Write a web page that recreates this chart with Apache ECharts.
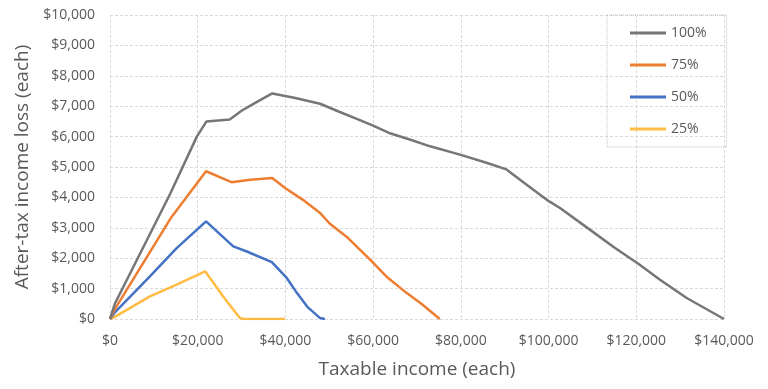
<!DOCTYPE html>
<html><head><meta charset="utf-8">
<script src="https://cdn.jsdelivr.net/npm/echarts@6/dist/echarts.min.js"></script>
<style>html,body{margin:0;padding:0;background:#fff}#c{width:768px;height:389px}</style>
</head><body><div id="c"></div>
<script>
const seriesNames = ['100%', '75%', '50%', '25%'];
const s100 = [[0,0],[1100,500],[13700,4110],[19800,6000],[22000,6500],[27300,6560],[30000,6850],[33000,7100],[37000,7420],[42000,7280],[47900,7080],[52400,6810],[56000,6600],[60000,6360],[64000,6100],[68000,5920],[73000,5680],[80000,5400],[86000,5130],[90400,4920],[95000,4420],[99600,3920],[102600,3650],[109400,2940],[115000,2350],[120700,1790],[125400,1290],[131500,690],[140000,0]];
const s75 = [[0,0],[1000,300],[14000,3350],[21900,4860],[27700,4500],[32000,4580],[37000,4640],[40000,4300],[44000,3920],[47900,3490],[50000,3150],[54000,2700],[59300,1950],[63000,1400],[67600,860],[71000,500],[75200,0]];
const s50 = [[0,0],[1000,200],[9100,1400],[15200,2330],[21900,3210],[28100,2390],[31200,2220],[36900,1870],[40300,1350],[42600,860],[45000,400],[47900,30],[49000,0]];
const s25 = [[0,0],[1000,60],[9100,745],[15200,1130],[21700,1570],[25800,740],[29600,30],[30500,0],[39900,0]];
const colors = ['#767676', '#ed7d31', '#4472c4', '#ffbb44'];
const xTitle = 'Taxable income (each)';
const yTitle = 'After-tax income loss (each)';

const money = v => '$' + v.toLocaleString('en-US');
const font = '"Open Sans", "Noto Sans", sans-serif';
const chart = echarts.init(document.getElementById('c'), null, {renderer: 'canvas'});
const data = [s100, s75, s50, s25];
chart.setOption({
  animation: false,
  textStyle: {fontFamily: font},
  grid: {left: 110, right: 44, top: 15, bottom: 70},
  legend: {
    orient: 'vertical', left: 607, top: 15, width: 121,
    padding: [11, 20, 11, 23], itemGap: 18, itemWidth: 36, itemHeight: 3,
    icon: 'rect', borderColor: '#bfbfbf', borderWidth: 1, borderType: 'dotted',
    textStyle: {fontSize: 14, color: '#595959', fontFamily: font},
    data: seriesNames
  },
  xAxis: {
    type: 'value', min: 0, max: 140000, interval: 20000,
    name: xTitle, nameLocation: 'middle', nameGap: 41,
    nameTextStyle: {fontSize: 19, color: '#595959'},
    axisLine: {show: false}, axisTick: {show: false},
    axisLabel: {formatter: money, fontSize: 14, color: '#595959', margin: 15},
    splitLine: {show: true, lineStyle: {color: '#d9d9d9', type: [3, 2], width: 1}}
  },
  yAxis: {
    type: 'value', min: 0, max: 10000, interval: 1000,
    name: yTitle, nameLocation: 'middle', nameGap: 78, nameRotate: 90,
    nameTextStyle: {fontSize: 19, color: '#595959'},
    axisLine: {show: false}, axisTick: {show: false},
    axisLabel: {formatter: money, fontSize: 14, color: '#595959', margin: 15},
    splitLine: {show: true, lineStyle: {color: '#d9d9d9', type: [3, 2], width: 1}}
  },
  series: seriesNames.map((n, i) => ({
    name: n, type: 'line', data: data[i], showSymbol: false, symbol: 'none',
    color: colors[i], lineStyle: {width: 2.5, color: colors[i]}, z: 10 - i
  }))
});
</script></body></html>
